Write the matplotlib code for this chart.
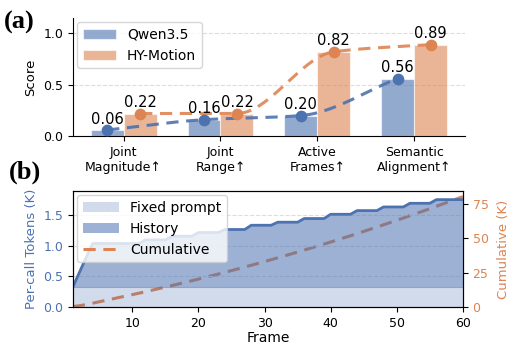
import matplotlib
matplotlib.use("Agg")
import matplotlib.pyplot as plt
import numpy as np

BLUE = "#4C72B0"
ORANGE = "#DD8452"

# (a) scores per metric
metrics = ["Joint\nMagnitude\u2191", "Joint\nRange\u2191", "Active\nFrames\u2191", "Semantic\nAlignment\u2191"]
qwen_scores = [0.06, 0.16, 0.20, 0.56]
hy_scores = [0.22, 0.22, 0.82, 0.89]

# (b) per-call tokens (K) per frame
frames = np.arange(1, 61)
fixed_prompt = 0.33
per_call_total = [
    0.33, 0.57, 0.81, 1.04, 1.04, 1.04, 1.04, 1.04, 1.04, 1.04,
    1.04, 1.10, 1.10, 1.10, 1.10, 1.16, 1.16, 1.16, 1.16, 1.22,
    1.22, 1.22, 1.22, 1.27, 1.27, 1.27, 1.27, 1.34, 1.34, 1.34,
    1.34, 1.39, 1.39, 1.39, 1.39, 1.45, 1.45, 1.45, 1.45, 1.52,
    1.52, 1.52, 1.52, 1.58, 1.58, 1.58, 1.58, 1.64, 1.64, 1.64,
    1.64, 1.70, 1.70, 1.70, 1.70, 1.76, 1.76, 1.76, 1.76, 1.76,
]


def pchip(x, y, xs):
    # monotone cubic curve through the points, only for drawing the dashed guide
    x = np.asarray(x, float)
    y = np.asarray(y, float)
    h = np.diff(x)
    d = np.diff(y) / h
    m = np.zeros_like(y)
    for k in range(1, len(x) - 1):
        if d[k - 1] * d[k] > 0:
            w1 = 2 * h[k] + h[k - 1]
            w2 = h[k] + 2 * h[k - 1]
            m[k] = (w1 + w2) / (w1 / d[k - 1] + w2 / d[k])
    m[0] = d[0]
    m[-1] = d[-1]
    out = np.empty_like(xs)
    for j, xv in enumerate(xs):
        k = min(max(np.searchsorted(x, xv) - 1, 0), len(x) - 2)
        t = (xv - x[k]) / h[k]
        h00 = 2 * t**3 - 3 * t**2 + 1
        h10 = t**3 - 2 * t**2 + t
        h01 = -2 * t**3 + 3 * t**2
        h11 = t**3 - t**2
        out[j] = h00 * y[k] + h10 * h[k] * m[k] + h01 * y[k + 1] + h11 * h[k] * m[k + 1]
    return out


fig = plt.figure(figsize=(5.32, 3.5), dpi=100)

# ---- (a)
ax1 = fig.add_axes([0.137, 0.611, 0.737, 0.338])
x = np.arange(len(metrics))
w = 0.34
ax1.bar(x - w / 2, qwen_scores, w, color=BLUE, alpha=0.6, edgecolor="white", linewidth=0.8, label="Qwen3.5", zorder=2)
ax1.bar(x + w / 2, hy_scores, w, color=ORANGE, alpha=0.6, edgecolor="white", linewidth=0.8, label="HY-Motion", zorder=2)

for xs0, vals, col in [(x - w / 2, qwen_scores, BLUE), (x + w / 2, hy_scores, ORANGE)]:
    xx = np.linspace(xs0[0], xs0[-1], 200)
    ax1.plot(xx, pchip(xs0, vals, xx), "--", color=col, lw=2.2, alpha=0.9, dashes=(4, 2.5), zorder=3)
    ax1.scatter(xs0, vals, s=55, color=col, zorder=4)
    for xi, v in zip(xs0, vals):
        ax1.annotate(f"{v:.2f}", (xi, v), xytext=(0, 2.5), textcoords="offset points",
                     ha="center", va="bottom", fontsize=10.5, zorder=5)

ax1.set_ylim(0, 1.15)
ax1.set_yticks([0.0, 0.5, 1.0])
ax1.set_xticks(x)
ax1.set_xticklabels(metrics, fontsize=9)
ax1.tick_params(axis="y", labelsize=9)
ax1.set_ylabel("Score", fontsize=9.5)
ax1.yaxis.grid(True, ls="--", color="#dddddd", lw=0.8)
ax1.set_axisbelow(True)
ax1.spines["top"].set_visible(False)
ax1.spines["right"].set_visible(False)
ax1.legend(loc="upper left", fontsize=10, handlelength=2.4, frameon=True, borderaxespad=0.3)

# ---- (b)
ax2 = fig.add_axes([0.137, 0.123, 0.733, 0.331])
total = np.array(per_call_total)
fixed = np.full(len(frames), fixed_prompt)
cumulative = np.cumsum(total)

ax2.fill_between(frames, 0, fixed, color=BLUE, alpha=0.25, lw=0, label="Fixed prompt")
ax2.fill_between(frames, fixed, total, color=BLUE, alpha=0.55, lw=0, label="History")
ax2.plot(frames, fixed, color=BLUE, lw=0.8, alpha=0.4)
ax2.plot(frames, total, color=BLUE, lw=2)
ax2.set_xlim(1, 60)
ax2.set_ylim(0, 1.9)
ax2.set_yticks([0.0, 0.5, 1.0, 1.5])
ax2.set_ylabel("Per-call Tokens (K)", color=BLUE, fontsize=9.5)
ax2.tick_params(axis="y", colors=BLUE, labelsize=9)
ax2.tick_params(axis="y", color="black")
ax2.tick_params(axis="x", labelsize=9)
ax2.set_xlabel("Frame", fontsize=10, labelpad=1)
ax2.yaxis.grid(True, ls="--", color="#dddddd", lw=0.8)
ax2.set_axisbelow(True)

ax3 = ax2.twinx()
ax3.plot(frames, cumulative, "--", color=ORANGE, lw=2.2, dashes=(4, 2.5), label="Cumulative")
ax3.set_ylim(0, cumulative.max() * 1.05)
ax3.set_yticks([0, 25, 50, 75])
ax3.tick_params(axis="y", labelcolor=ORANGE, labelsize=9)
ax3.set_ylabel("Cumulative (K)", color=ORANGE, fontsize=9.5, labelpad=6)

h1, l1 = ax2.get_legend_handles_labels()
h2, l2 = ax3.get_legend_handles_labels()
ax2.legend(h1 + h2, l1 + l2, loc="upper left", fontsize=10, handlelength=2.6, borderaxespad=0.3).set_zorder(10)
ax2.set_zorder(ax3.get_zorder() + 1)
ax2.patch.set_visible(False)

fig.text(0.008, 0.937, "(a)", fontsize=19, fontweight="bold", family="Liberation Serif", va="center")
fig.text(0.016, 0.508, "(b)", fontsize=19, fontweight="bold", family="Liberation Serif", va="center")

fig.savefig("out.png", dpi=100)
